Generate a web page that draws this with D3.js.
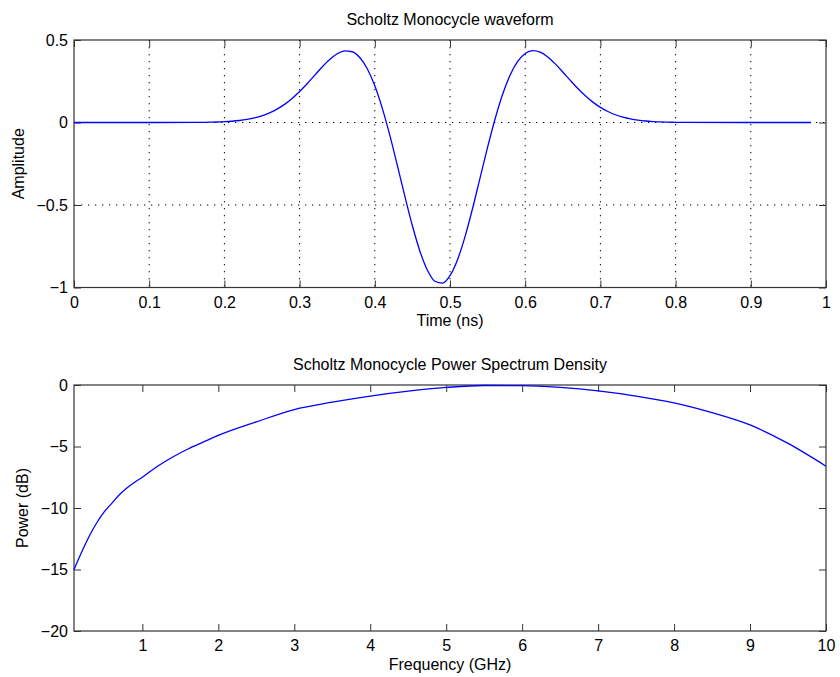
<!DOCTYPE html>
<html><head><meta charset="utf-8">
<script src="https://cdn.jsdelivr.net/npm/d3@7"></script>
<style>
body{margin:0;background:#fff}
text{font-family:"Liberation Sans",Arial,Helvetica,sans-serif;font-size:16px;fill:#000}
</style>
</head><body>
<svg id="chart" width="840" height="677"></svg>
<script>
// ---- data ----
const timeNs = [0,0.1,0.16,0.17,0.18,0.19,0.20,0.21,0.22,0.23,0.24,0.25,0.26,0.27,0.28,0.29,0.30,0.31,0.32,0.33,0.34,0.35,0.36,0.37,0.38,0.39,0.40,0.41,0.42,0.43,0.44,0.45,0.46,0.47,0.48,0.49,0.50,0.51,0.52,0.53,0.54,0.55,0.56,0.57,0.58,0.59,0.60,0.61,0.62,0.63,0.64,0.65,0.66,0.67,0.68,0.69,0.70,0.71,0.72,0.73,0.74,0.75,0.76,0.77,0.78,0.79,0.80,0.81,0.9,0.98];
const amplitude = [0,0,0.0005,0.0010,0.0017,0.0029,0.0048,0.0077,0.0121,0.0185,0.0278,0.0407,0.0581,0.0810,0.1100,0.1457,0.1880,0.2350,0.2857,0.3360,0.3814,0.4165,0.4344,0.4288,0.3940,0.3256,0.2221,0.0855,-0.0785,-0.2605,-0.4479,-0.6260,-0.7798,-0.8954,-0.9621,-0.9734,-0.9284,-0.8313,-0.6913,-0.5211,-0.3356,-0.1498,0.0227,0.1712,0.2883,0.3708,0.4187,0.4354,0.4261,0.3971,0.3551,0.3059,0.2551,0.2061,0.1618,0.1235,0.0918,0.0666,0.0470,0.0324,0.0219,0.0144,0.0092,0.0058,0.0036,0.0021,0.0012,0.0006,0,0];
const timeTicks = [0,0.1,0.2,0.3,0.4,0.5,0.6,0.7,0.8,0.9,1];
const ampTicks = [-1,-0.5,0,0.5];

const freqGHz = [0.1,0.2,0.3,0.4,0.5,0.6,0.7,0.8,0.9,1.0,1.2,1.4,1.6,1.8,2.0,2.5,3.0,3.5,4.0,4.5,5.0,5.5,6.0,6.5,7.0,7.5,8.0,8.5,9.0,9.5,10.0];
const powerDb = [-15,-13.6,-12.3,-11.2,-10.3,-9.6,-8.9,-8.35,-7.9,-7.5,-6.6,-5.85,-5.2,-4.65,-4.1,-3.0,-2.0,-1.4,-0.9,-0.5,-0.2,-0.04,-0.05,-0.2,-0.48,-0.9,-1.45,-2.25,-3.25,-4.75,-6.6];
const freqTicks = [1,2,3,4,5,6,7,8,9,10];
const powerTicks = [-20,-15,-10,-5,0];

const titles = ["Scholtz Monocycle waveform","Scholtz Monocycle Power Spectrum Density"];
const xLabels = ["Time (ns)","Frequency (GHz)"];
const yLabels = ["Amplitude","Power (dB)"];

// ---- drawing ----
const svg = d3.select("#chart");
const fmt = d => d < 0 ? "\u2212" + String(Math.abs(d)) : String(d);
const boxColor = "#333";

function panel(o){
  const g = svg.append("g");
  const x = o.x, y = o.y;
  const [x0,x1] = x.range(), [y1,y0] = y.range();
  // grid
  if (o.grid){
    g.selectAll(".vg").data(o.xTicks.filter(t => x(t) > x0+1 && x(t) < x1-1)).join("line")
      .attr("x1", d => x(d)).attr("x2", d => x(d)).attr("y1", y0).attr("y2", y1)
      .attr("stroke","#000").attr("stroke-width",1).attr("stroke-dasharray","1.3,5.7");
    g.selectAll(".hg").data(o.yTicks.filter(t => y(t) > y0+1 && y(t) < y1-1)).join("line")
      .attr("x1", x0).attr("x2", x1).attr("y1", d => y(d)).attr("y2", d => y(d))
      .attr("stroke","#000").attr("stroke-width",1).attr("stroke-dasharray","1.3,5.7");
  }
  // axes
  const ax = (sel) => { sel.select(".domain").remove(); sel.selectAll(".tick line").attr("stroke", boxColor); };
  g.append("g").attr("transform",`translate(0,${y1})`)
    .call(d3.axisBottom(x).tickValues(o.xTicks).tickSize(-7).tickPadding(o.xPad).tickFormat(fmt))
    .call(ax).call(s => s.selectAll("text").style("font-size","16px").attr("fill","#000"));
  g.append("g").attr("transform",`translate(0,${y0})`)
    .call(d3.axisTop(x).tickValues(o.xTicks).tickSize(-7).tickFormat(""))
    .call(ax);
  g.append("g").attr("transform",`translate(${x0},0)`)
    .call(d3.axisLeft(y).tickValues(o.yTicks).tickSize(-7).tickPadding(6).tickFormat(fmt))
    .call(ax).call(s => s.selectAll("text").style("font-size","16px").attr("fill","#000"));
  g.append("g").attr("transform",`translate(${x1},0)`)
    .call(d3.axisRight(y).tickValues(o.yTicks).tickSize(-7).tickFormat(""))
    .call(ax);
  g.append("rect").attr("x",x0).attr("y",y0).attr("width",x1-x0).attr("height",y1-y0)
    .attr("fill","none").attr("stroke",boxColor).attr("stroke-width",1.2);
  // line
  const line = d3.line().x(d => x(d[0])).y(d => y(d[1])).curve(d3.curveMonotoneX);
  g.append("path").datum(d3.zip(o.xs, o.ys)).attr("d", line)
    .attr("fill","none").attr("stroke","#0000ff").attr("stroke-width",1.3);
  // texts
  g.append("text").attr("x",(x0+x1)/2).attr("y",o.titleY).attr("text-anchor","middle").text(o.title);
  g.append("text").attr("x",(x0+x1)/2).attr("y",o.xLabelY).attr("text-anchor","middle").text(o.xLabel);
  g.append("text").attr("transform",`translate(${o.yLabelX},${(y0+y1)/2}) rotate(-90)`)
    .attr("text-anchor","middle").text(o.yLabel);
}

panel({
  x: d3.scaleLinear().domain([0,1]).range([74,826]),
  y: d3.scaleLinear().domain([-1,0.5]).range([287.5,40]),
  xTicks: timeTicks, yTicks: ampTicks, grid: true, xPad: 9,
  xs: timeNs, ys: amplitude,
  title: titles[0], titleY: 25, xLabel: xLabels[0], xLabelY: 326, yLabel: yLabels[0], yLabelX: 24
});
panel({
  x: d3.scaleLinear().domain([0.1,10]).range([74,826]),
  y: d3.scaleLinear().domain([-20,0]).range([631,385]),
  xTicks: freqTicks, yTicks: powerTicks, grid: false, xPad: 9,
  xs: freqGHz, ys: powerDb,
  title: titles[1], titleY: 370, xLabelY: 670, xLabel: xLabels[1], yLabel: yLabels[1], yLabelX: 28
});
</script>
</body></html>
